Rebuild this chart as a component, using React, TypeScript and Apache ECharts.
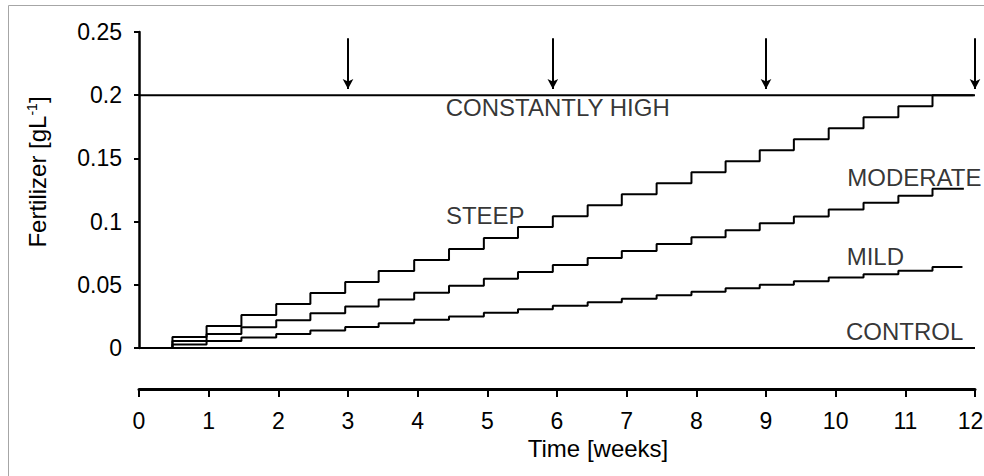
import React, { useEffect, useRef } from "react";
import * as echarts from "echarts";

// Times (weeks) at which each fertilizer step starts
const stepTimes = [0, 0.48, 0.97, 1.47, 1.97, 2.46, 2.96, 3.44, 3.95, 4.45, 4.95, 5.44, 5.94, 6.44, 6.93, 7.43, 7.93, 8.42, 8.91, 9.4, 9.9, 10.4, 10.9, 11.39];

const steepLevels = [0, 0.0087, 0.0174, 0.0261, 0.0348, 0.0435, 0.0522, 0.0609, 0.0696, 0.0783, 0.087, 0.0957, 0.1043, 0.113, 0.1217, 0.1304, 0.1391, 0.1478, 0.1565, 0.1652, 0.1739, 0.1826, 0.1913, 0.2];
const moderateLevels = [0, 0.0055, 0.011, 0.0164, 0.0219, 0.0274, 0.0329, 0.0383, 0.0438, 0.0493, 0.0548, 0.0602, 0.0657, 0.0712, 0.0767, 0.0822, 0.0876, 0.0931, 0.0986, 0.104, 0.1096, 0.115, 0.1205, 0.126];
const mildLevels = [0, 0.0028, 0.0056, 0.0084, 0.0111, 0.0139, 0.0167, 0.0195, 0.0223, 0.025, 0.0278, 0.0306, 0.0334, 0.0362, 0.039, 0.0417, 0.0445, 0.0473, 0.0501, 0.0529, 0.0557, 0.0584, 0.0612, 0.064];

const steepEnd = 11.98;
const moderateEnd = 11.84;
const mildEnd = 11.82;

const constantHigh = [[0, 0.2], [12, 0.2]];
const control = [[0, 0], [12, 0]];

// Fertilizer pulses (arrows)
const arrowTimes = [3, 5.94, 9, 12];
const arrowTop = 0.245;
const arrowTip = 0.205;

// Curve labels: [x (weeks), y (g/L), text]
const curveLabels: [number, number, string][] = [
  [6.01, 0.19, "CONSTANTLY HIGH"],
  [4.97, 0.105, "STEEP"],
  [11.13, 0.1345, "MODERATE"],
  [10.57, 0.072, "MILD"],
  [10.99, 0.0127, "CONTROL"],
];

const yTicks = [0, 0.05, 0.1, 0.15, 0.2, 0.25];
const xTicks = [0, 1, 2, 3, 4, 5, 6, 7, 8, 9, 10, 11, 12];

const FONT = "'Liberation Sans', Arial, Helvetica, sans-serif";
const INK = "#000";

function buildSteps(levels: number[], end: number) {
  const pts = stepTimes.map((t, i) => [t, levels[i]]);
  pts.push([end, levels[levels.length - 1]]);
  return pts;
}

export default function App() {
  const ref = useRef<HTMLDivElement>(null);
  useEffect(() => {
    if (!ref.current) return;
    const chart = echarts.init(ref.current, undefined, { renderer: "svg" });
    const lineStyle = { color: "#000", width: 2 };
    const stepSeries = (name: string, levels: number[], end: number) => ({
      name,
      type: "line",
      step: "end",
      data: buildSteps(levels, end),
      showSymbol: false,
      symbol: "none",
      lineStyle,
      silent: true,
    });
    const lastX = xTicks[xTicks.length - 1];
    chart.setOption({
      animation: false,
      backgroundColor: "#fff",
      textStyle: { fontFamily: FONT },
      grid: { left: 139, right: 9, top: 32, bottom: 128, containLabel: false, outerBoundsMode: "none" },
      xAxis: {
        type: "value",
        min: 0,
        max: 12,
        interval: 1,
        offset: 41,
        axisLine: { show: true, onZero: false, lineStyle: { color: "#000", width: 3 } },
        axisTick: { show: true, length: 8, lineStyle: { color: "#000", width: 2 } },
        splitLine: { show: false },
        axisLabel: {
          margin: 20,
          fontSize: 23,
          color: INK,
          fontFamily: FONT,
          hideOverlap: false,
          formatter: (v: number) =>
            v === lastX ? `{last|${v}}` : xTicks.includes(v) ? String(v) : "",
          rich: {
            last: { fontSize: 23, fontFamily: FONT, color: INK, padding: [0, 9, 0, 0] },
          },
        },
      },
      yAxis: {
        type: "value",
        min: 0,
        max: 0.25,
        interval: 0.05,
        axisLine: { show: true, lineStyle: { color: "#000", width: 2.5 } },
        axisTick: { show: true, length: 5, lineStyle: { color: "#000", width: 2 } },
        splitLine: { show: false },
        axisLabel: {
          margin: 17,
          fontSize: 23,
          color: INK,
          fontFamily: FONT,
          formatter: (v: number) => {
            const t = yTicks.find((y) => Math.abs(y - v) < 1e-6);
            return t === undefined ? "" : String(t);
          },
        },
      },
      graphic: [
        {
          type: "rect",
          shape: { x: 8.5, y: 5.5, width: 1200, height: 800 },
          style: { fill: "none", stroke: "#a6a6a6", lineWidth: 1 },
          silent: true,
        },
        {
          type: "text",
          x: 37,
          y: 172,
          rotation: Math.PI / 2,
          style: {
            text: "Fertilizer [gL{sup|-1}]",
            fontSize: 24,
            fontFamily: FONT,
            fill: INK,
            align: "center",
            verticalAlign: "middle",
            rich: {
              sup: { fontSize: 14, verticalAlign: "top", padding: [0, 0, 10, 0], fontFamily: FONT, fill: INK },
            },
          },
          silent: true,
        },
        {
          type: "text",
          x: 598,
          y: 448,
          style: {
            text: "Time [weeks]",
            fontSize: 24,
            fontFamily: FONT,
            fill: INK,
            align: "center",
            verticalAlign: "middle",
          },
          silent: true,
        },
      ],
      series: [
        {
          name: "CONSTANTLY HIGH",
          type: "line",
          data: constantHigh,
          showSymbol: false,
          symbol: "none",
          lineStyle,
          silent: true,
          markLine: {
            silent: true,
            symbol: ["none", "arrow"],
            symbolSize: [8, 10],
            label: { show: false },
            lineStyle: { color: "#000", width: 2, type: "solid" },
            data: arrowTimes.map((t) => [
              { coord: [t, arrowTop] },
              { coord: [t, arrowTip] },
            ]),
          },
        },
        {
          name: "CONTROL",
          type: "line",
          data: control,
          showSymbol: false,
          symbol: "none",
          lineStyle,
          silent: true,
        },
        stepSeries("STEEP", steepLevels, steepEnd),
        stepSeries("MODERATE", moderateLevels, moderateEnd),
        stepSeries("MILD", mildLevels, mildEnd),
        {
          name: "labels",
          type: "scatter",
          symbolSize: 0,
          silent: true,
          data: curveLabels.map(([x, y, text]) => ({ value: [x, y], name: text })),
          label: {
            show: true,
            position: "inside",
            formatter: (p: any) => p.name,
            fontSize: 24,
            fontFamily: FONT,
            color: INK,
          },
        },
      ],
    });
    return () => chart.dispose();
  }, []);
  return (
    <div
      ref={ref}
      style={{ position: "fixed", left: 0, top: 0, width: 984, height: 476 }}
    />
  );
}
